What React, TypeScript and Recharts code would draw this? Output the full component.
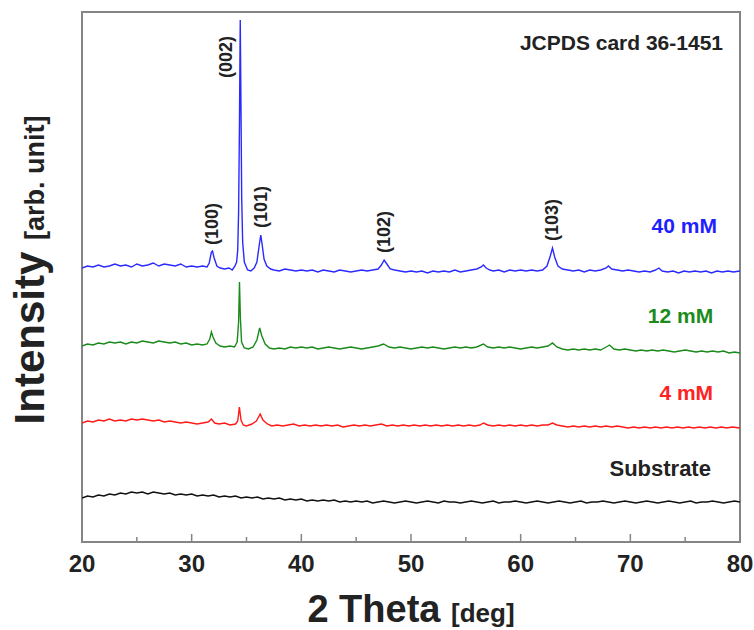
import { LineChart, Line, XAxis, YAxis, ReferenceDot, ReferenceArea } from "recharts"

// XRD patterns, intensity in arbitrary units (traces already offset)
const blue40: number[][] = [
  [20, 274], [20.5, 276], [21, 275], [21.5, 277], [22, 275], [22.5, 276], [23, 278], [23.5, 276],
  [24, 277], [24.5, 275], [25, 278], [25.5, 276], [26, 277], [26.5, 279], [27, 276], [27.5, 278],
  [28, 277], [28.5, 276], [29, 278], [29.5, 275], [30, 276], [30.5, 275], [31, 276], [31.4, 275],
  [31.6, 279], [31.8, 290], [31.9, 291], [32.05, 284], [32.3, 276], [32.6, 274], [33, 273], [33.4, 274],
  [33.7, 272], [33.95, 276], [34.1, 280], [34.2, 292], [34.28, 330], [34.36, 420], [34.43, 522], [34.5, 430],
  [34.56, 345], [34.65, 300], [34.8, 280], [35.1, 272], [35.4, 271], [35.7, 274], [35.95, 280], [36.15, 296],
  [36.3, 307], [36.42, 298], [36.6, 283], [36.85, 276], [37.2, 273], [37.5, 272], [38, 271], [38.5, 273],
  [39, 272], [39.5, 271], [40, 272], [40.5, 271], [41, 272], [41.5, 270], [42, 272], [42.5, 271],
  [43, 270], [43.5, 272], [44, 271], [44.5, 270], [45, 271], [45.5, 272], [46, 271], [46.5, 272],
  [47, 273], [47.3, 277], [47.55, 282], [47.8, 278], [48.1, 273], [48.5, 272], [49, 271], [49.5, 270],
  [50, 271], [50.5, 270], [51, 271], [51.5, 269], [52, 271], [52.5, 270], [53, 271], [53.5, 270],
  [54, 272], [54.5, 270], [55, 271], [55.5, 272], [56, 273], [56.4, 275], [56.6, 277], [56.85, 274],
  [57.2, 272], [57.5, 271], [58, 272], [58.5, 270], [59, 272], [59.5, 271], [60, 272], [60.5, 271],
  [61, 272], [61.5, 271], [62, 272], [62.4, 276], [62.7, 286], [62.9, 294], [63.1, 285], [63.4, 276],
  [63.8, 273], [64.3, 272], [64.8, 271], [65.3, 272], [65.8, 270], [66.3, 272], [66.8, 271], [67.3, 272],
  [67.8, 274], [68, 276], [68.3, 273], [68.8, 272], [69.3, 271], [69.8, 272], [70.3, 271], [70.8, 270],
  [71.3, 271], [71.8, 270], [72.3, 272], [72.6, 274], [72.9, 271], [73.4, 270], [73.9, 271], [74.4, 269],
  [74.9, 271], [75.4, 270], [75.9, 271], [76.4, 270], [76.9, 271], [77.4, 269], [77.9, 271], [78.4, 270],
  [78.9, 271], [79.4, 270], [80, 271],
]

const green12: number[][] = [
  [20, 196], [20.5, 198], [21, 197], [21.5, 199], [22, 198], [22.5, 200], [23, 199], [23.5, 200],
  [24, 198], [24.5, 200], [25, 199], [25.5, 201], [26, 200], [26.5, 199], [27, 201], [27.5, 200],
  [28, 199], [28.5, 200], [29, 198], [29.5, 199], [30, 197], [30.5, 198], [31, 197], [31.4, 198],
  [31.65, 203], [31.8, 210], [31.95, 205], [32.2, 199], [32.6, 196], [33, 195], [33.5, 196], [33.9, 195],
  [34.15, 200], [34.28, 220], [34.36, 260], [34.44, 225], [34.55, 200], [34.8, 194], [35.2, 193], [35.6, 195],
  [35.95, 202], [36.2, 214], [36.4, 206], [36.7, 198], [37.1, 194], [37.5, 193], [38, 194], [38.5, 193],
  [39, 195], [39.5, 194], [40, 195], [40.5, 194], [41, 195], [41.5, 193], [42, 194], [42.5, 195],
  [43, 194], [43.5, 193], [44, 194], [44.5, 195], [45, 194], [45.5, 193], [46, 194], [46.5, 195],
  [47, 196], [47.5, 198], [48, 195], [48.5, 194], [49, 195], [49.5, 194], [50, 193], [50.5, 194],
  [51, 195], [51.5, 194], [52, 195], [52.5, 194], [53, 193], [53.5, 194], [54, 195], [54.5, 194],
  [55, 195], [55.5, 194], [56, 195], [56.6, 198], [57, 195], [57.5, 194], [58, 195], [58.5, 194],
  [59, 195], [59.5, 194], [60, 193], [60.5, 194], [61, 195], [61.5, 194], [62, 195], [62.5, 196],
  [62.9, 199], [63.3, 195], [63.8, 193], [64.3, 192], [64.8, 193], [65.3, 192], [65.8, 193], [66.3, 192],
  [66.8, 193], [67.3, 192], [67.8, 195], [68.1, 197], [68.5, 193], [69, 192], [69.5, 193], [70, 192],
  [70.5, 191], [71, 192], [71.5, 191], [72, 192], [72.5, 191], [73, 192], [73.5, 191], [74, 190],
  [74.5, 191], [75, 192], [75.5, 191], [76, 190], [76.5, 191], [77, 190], [77.5, 191], [78, 190],
  [78.5, 191], [79, 189], [79.5, 190], [80, 189],
]

const red4: number[][] = [
  [20, 119], [20.5, 121], [21, 120], [21.5, 122], [22, 121], [22.5, 123], [23, 121], [23.5, 122],
  [24, 121], [24.5, 123], [25, 122], [25.5, 123], [26, 122], [26.5, 121], [27, 122], [27.5, 120],
  [28, 121], [28.5, 120], [29, 119], [29.5, 120], [30, 119], [30.5, 118], [31, 119], [31.5, 120],
  [31.8, 123], [32.1, 119], [32.5, 118], [33, 119], [33.5, 117], [34, 118], [34.2, 121], [34.35, 135],
  [34.5, 122], [34.7, 117], [35, 116], [35.5, 118], [35.9, 121], [36.25, 128], [36.5, 122], [36.9, 118],
  [37.3, 116], [37.8, 117], [38.3, 116], [38.8, 117], [39.3, 118], [39.8, 116], [40.3, 117], [40.8, 116],
  [41.3, 117], [41.8, 116], [42.3, 117], [42.8, 116], [43.3, 117], [43.8, 115], [44.3, 116], [44.8, 117],
  [45.3, 116], [45.8, 117], [46.3, 116], [46.8, 117], [47.3, 118], [47.8, 116], [48.3, 117], [48.8, 116],
  [49.3, 117], [49.8, 116], [50.3, 117], [50.8, 116], [51.3, 117], [51.8, 116], [52.3, 117], [52.8, 116],
  [53.3, 117], [53.8, 116], [54.3, 117], [54.8, 116], [55.3, 117], [55.8, 116], [56.3, 117], [56.6, 119],
  [57, 117], [57.5, 116], [58, 117], [58.5, 116], [59, 117], [59.5, 116], [60, 117], [60.5, 116],
  [61, 117], [61.5, 116], [62, 117], [62.5, 117], [62.9, 119], [63.3, 117], [63.8, 116], [64.3, 115],
  [64.8, 116], [65.3, 115], [65.8, 116], [66.3, 115], [66.8, 116], [67.3, 115], [67.8, 116], [68.3, 115],
  [68.8, 116], [69.3, 115], [69.8, 114], [70.3, 115], [70.8, 114], [71.3, 115], [71.8, 114], [72.3, 115],
  [72.8, 114], [73.3, 115], [73.8, 114], [74.3, 115], [74.8, 114], [75.3, 115], [75.8, 114], [76.3, 115],
  [76.8, 114], [77.3, 115], [77.8, 114], [78.3, 115], [78.8, 114], [79.3, 115], [80, 114],
]

const substrate: number[][] = [
  [20, 44], [20.5, 46], [21, 45], [21.5, 47], [22, 46], [22.5, 48], [23, 47], [23.5, 49],
  [24, 48], [24.5, 50], [25, 49], [25.5, 50], [26, 48], [26.5, 50], [27, 49], [27.5, 48],
  [28, 49], [28.5, 47], [29, 48], [29.5, 47], [30, 48], [30.5, 46], [31, 47], [31.5, 46],
  [32, 47], [32.5, 45], [33, 46], [33.5, 45], [34, 46], [34.5, 44], [35, 45], [35.5, 44],
  [36, 45], [36.5, 43], [37, 44], [37.5, 43], [38, 44], [38.5, 42], [39, 43], [39.5, 42],
  [40, 43], [40.5, 41], [41, 42], [41.5, 41], [42, 42], [42.5, 41], [43, 42], [43.5, 40],
  [44, 41], [44.5, 40], [45, 41], [45.5, 40], [46, 41], [46.5, 39], [47, 40], [47.5, 41],
  [48, 40], [48.5, 39], [49, 40], [49.5, 41], [50, 40], [50.5, 39], [51, 40], [51.5, 41],
  [52, 40], [52.5, 39], [53, 41], [53.5, 40], [54, 40], [54.5, 39], [55, 40], [55.5, 41],
  [56, 40], [56.5, 39], [57, 40], [57.5, 41], [58, 39], [58.5, 40], [59, 40], [59.5, 41],
  [60, 40], [60.5, 39], [61, 40], [61.5, 41], [62, 40], [62.5, 39], [63, 40], [63.5, 41],
  [64, 40], [64.5, 39], [65, 40], [65.5, 41], [66, 39], [66.5, 40], [67, 40], [67.5, 41],
  [68, 40], [68.5, 39], [69, 40], [69.5, 41], [70, 40], [70.5, 39], [71, 40], [71.5, 41],
  [72, 40], [72.5, 39], [73, 40], [73.5, 41], [74, 40], [74.5, 39], [75, 40], [75.5, 41],
  [76, 39], [76.5, 40], [77, 40], [77.5, 41], [78, 40], [78.5, 39], [79, 40], [79.5, 41],
  [80, 40],
]

const xTicks = [20, 25, 30, 35, 40, 45, 50, 55, 60, 65, 70, 75, 80]

const peakLabels = [
  { x: 31.85, y: 318, text: "(100)" },
  { x: 33.1, y: 485, text: "(002)" },
  { x: 36.35, y: 335, text: "(101)" },
  { x: 47.55, y: 310, text: "(102)" },
  { x: 62.9, y: 322, text: "(103)" },
]

const sampleLabels = [
  { x: 77.9, y: 317, text: "40 mM", color: "#1f1fff", size: 21 },
  { x: 77.55, y: 227, text: "12 mM", color: "#1b8c1b", size: 21 },
  { x: 77.55, y: 150, text: "4 mM", color: "#ff2222", size: 21 },
  { x: 77.35, y: 74, text: "Substrate", color: "#222222", size: 22 },
  { x: 78.45, y: 500, text: "JCPDS card 36-1451", color: "#222222", size: 21 },
]

const series = [
  { name: "40 mM", data: blue40, color: "#2a2aff" },
  { name: "12 mM", data: green12, color: "#1a8a1a" },
  { name: "4 mM", data: red4, color: "#ff1a1a" },
  { name: "Substrate", data: substrate, color: "#111111" },
]

const FONT = "Arial, 'Liberation Sans', sans-serif"
const FRAME = "#858585"

const toPoints = (arr: number[][]) => arr.map(([x, y]) => ({ x, y }))

function XTick(props: any) {
  const { x, y, payload } = props
  const v = payload.value as number
  const major = v % 10 === 0
  const axisY = y - 13
  return (
    <g>
      {v !== 20 && v !== 80 && (
        <line x1={x} x2={x} y1={axisY} y2={axisY - (major ? 8 : 5)} stroke={FRAME} strokeWidth={1.5} />
      )}
      {major && (
        <text x={x} y={y} dy="0.71em" textAnchor="middle" fontFamily={FONT} fontWeight="bold" fontSize={24} fill="#222">
          {v}
        </text>
      )}
    </g>
  )
}

export default function App() {
  return (
    <div style={{ position: "absolute", left: 0, top: 0, background: "#fff" }}>
      <LineChart width={754} height={630} margin={{ top: 12, right: 14, left: 0, bottom: 0 }}>
        <XAxis
          dataKey="x"
          type="number"
          domain={[20, 80]}
          ticks={xTicks}
          interval={0}
          height={88}
          tickSize={0}
          tickMargin={13}
          tick={<XTick />}
          axisLine={false}
          tickLine={false}
          allowDataOverflow
          label={(p: any) => {
            const vb = p.viewBox
            return (
              <text x={vb.x + vb.width / 2} y={vb.y + 80} textAnchor="middle" fontFamily={FONT} fontWeight="bold" fill="#222">
                <tspan fontSize={38}>2 Theta </tspan>
                <tspan fontSize={26}>[deg]</tspan>
              </text>
            )
          }}
        />
        <YAxis
          type="number"
          domain={[0, 530]}
          width={82}
          tick={false}
          tickLine={false}
          axisLine={false}
          allowDataOverflow
          label={(p: any) => {
            const vb = p.viewBox
            const cx = vb.x + 44
            const cy = vb.y + vb.height / 2 - 7
            return (
              <text x={cx} y={cy} transform={`rotate(-90 ${cx} ${cy})`} textAnchor="middle" fontFamily={FONT} fontWeight="bold" fill="#222">
                <tspan fontSize={42}>Intensity </tspan>
                <tspan fontSize={27}>[arb. unit]</tspan>
              </text>
            )
          }}
        />

        {series.map((s) => (
          <Line
            key={s.name}
            data={toPoints(s.data)}
            dataKey="y"
            type="linear"
            stroke={s.color}
            strokeWidth={1.4}
            dot={false}
            activeDot={false}
            isAnimationActive={false}
          />
        ))}

        <ReferenceArea x1={20} x2={80} y1={0} y2={530} fill="none" stroke={FRAME} strokeWidth={2} />

        {peakLabels.map((l) => (
          <ReferenceDot
            key={l.text}
            x={l.x}
            y={l.y}
            r={0}
            fill="none"
            stroke="none"
            label={(p: any) => {
              const cx = p.viewBox.x
              const cy = p.viewBox.y
              return (
                <text x={cx} y={cy} transform={`rotate(-90 ${cx} ${cy})`} textAnchor="middle" dominantBaseline="central" fontFamily={FONT} fontWeight="bold" fontSize={18} fill="#222">
                  {l.text}
                </text>
              )
            }}
          />
        ))}

        {sampleLabels.map((l) => (
          <ReferenceDot
            key={l.text}
            x={l.x}
            y={l.y}
            r={0}
            fill="none"
            stroke="none"
            label={(p: any) => (
              <text x={p.viewBox.x} y={p.viewBox.y} textAnchor="end" dominantBaseline="central" fontFamily={FONT} fontWeight="bold" fontSize={l.size} fill={l.color}>
                {l.text}
              </text>
            )}
          />
        ))}
      </LineChart>
    </div>
  )
}
